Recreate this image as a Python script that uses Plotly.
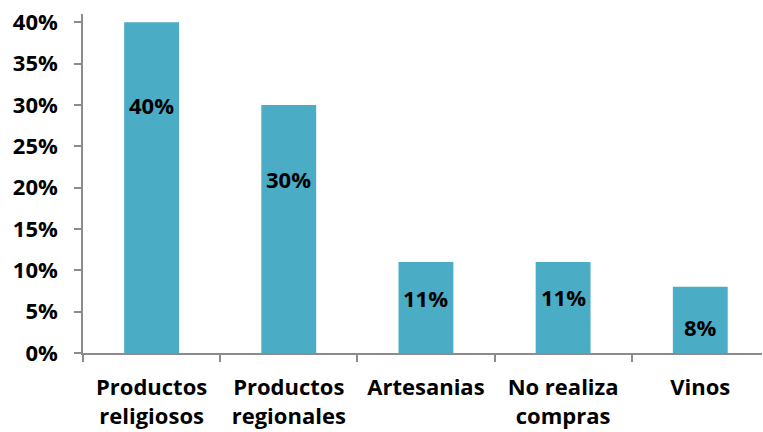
import plotly.graph_objects as go

categories = ["Productos<br>religiosos", "Productos<br>regionales", "Artesanias", "No realiza<br>compras", "Vinos"]
values = [0.40, 0.30, 0.11, 0.11, 0.08]
value_labels = ["40%", "30%", "11%", "11%", "8%"]
y_ticks = [0, 0.05, 0.10, 0.15, 0.20, 0.25, 0.30, 0.35, 0.40]
y_tick_labels = ["0%", "5%", "10%", "15%", "20%", "25%", "30%", "35%", "40%"]

# label placement (style): vertical position of the value labels, in axis units
label_pos = [0.30, 0.21, 0.066, 0.068, 0.031]

FONT = "Open Sans"
bar_color = "#4BACC6"
axis_color = "#8C8C8C"
FS = 22

fig = go.Figure()
fig.add_trace(go.Bar(x=categories, y=values,
                     marker=dict(color=bar_color, line=dict(width=0)),
                     hoverinfo="skip"))

for c, p, t in zip(categories, label_pos, value_labels):
    fig.add_annotation(x=c, y=p, text=t, showarrow=False,
                       font=dict(family=FONT, size=FS, color="black", weight="bold"))

fig.update_layout(
    width=763, height=432,
    margin=dict(l=83, r=1, t=14, b=79),
    paper_bgcolor="white", plot_bgcolor="white",
    bargap=0.6,
    showlegend=False,
    font=dict(family=FONT, size=FS, color="black", weight="bold"),
)
fig.update_xaxes(
    type="category", range=[-0.5, 4.45],
    showline=True, linecolor=axis_color, linewidth=1.5,
    ticks="outside", tickson="boundaries", ticklen=7, tickcolor=axis_color, tickwidth=1.5,
    showgrid=False, ticklabelstandoff=14,
    tickfont=dict(family=FONT, size=FS, color="black", weight="bold"),
)
fig.update_yaxes(
    range=[0, 0.41], tickvals=y_ticks, ticktext=y_tick_labels,
    showline=True, linecolor=axis_color, linewidth=1.5,
    ticks="outside", ticklen=7, tickcolor=axis_color, tickwidth=1.5,
    showgrid=False, zeroline=False, ticklabelstandoff=12,
    tickfont=dict(family=FONT, size=FS, color="black", weight="bold"),
)

fig.write_html("out.html")
